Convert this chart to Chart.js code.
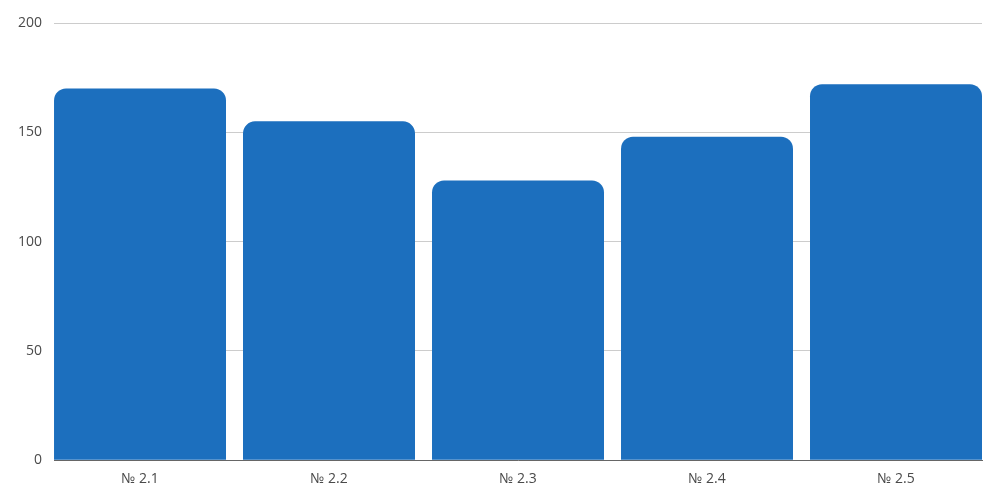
<!DOCTYPE html>
<html>
<head>
<meta charset="utf-8">
<script src="https://cdn.jsdelivr.net/npm/chart.js@4"></script>
<style>
  html, body { margin: 0; padding: 0; background: #fff; }
  #wrap { width: 1000px; height: 500px; }
</style>
</head>
<body>
<div id="wrap"><canvas id="myChart"></canvas></div>
<script>
"use strict";

// Chart data
const categories = ["№ 2.1", "№ 2.2", "№ 2.3", "№ 2.4", "№ 2.5"];
const values = [170, 155, 128, 148, 172];
const yTicks = [0, 50, 100, 150, 200];

// bar width as a share of one category slot
const barShare = 0.91;
const edge = barShare / 2;

const points = categories.map((c, i) => ({ x: i, y: values[i] }));

Chart.defaults.font.family = "'Open Sans', sans-serif";
Chart.defaults.font.size = 14;
Chart.defaults.color = "#4a4a4a";

new Chart("myChart", {
  type: "bar",
  data: {
    datasets: [{
      data: points,
      backgroundColor: "#1c6fbe",
      borderRadius: { topLeft: 12, topRight: 12 },
      borderSkipped: "start",
      categoryPercentage: 1,
      barPercentage: barShare,
    }],
  },
  options: {
    responsive: true,
    maintainAspectRatio: false,
    animation: false,
    layout: { padding: { top: 23, right: 18, bottom: 11, left: 6 } },
    plugins: {
      legend: { display: false },
      tooltip: { enabled: false },
    },
    scales: {
      x: {
        type: "linear",
        min: -edge,
        max: categories.length - 1 + edge,
        offset: false,
        grid: { display: false },
        border: { display: true, color: "#666", width: 1 },
        ticks: {
          stepSize: 1,
          includeBounds: false,
          autoSkip: false,
          maxRotation: 0,
          padding: 2,
          callback: (v) => (Number.isInteger(v) ? categories[v] : ""),
        },
      },
      y: {
        min: yTicks[0],
        max: yTicks[yTicks.length - 1],
        grid: { color: "#cccccc", drawTicks: false },
        border: { display: false },
        afterBuildTicks: (axis) => {
          axis.ticks = yTicks.map((v) => ({ value: v }));
        },
        ticks: { padding: 12 },
      },
    },
  },
});
</script>
</body>
</html>
